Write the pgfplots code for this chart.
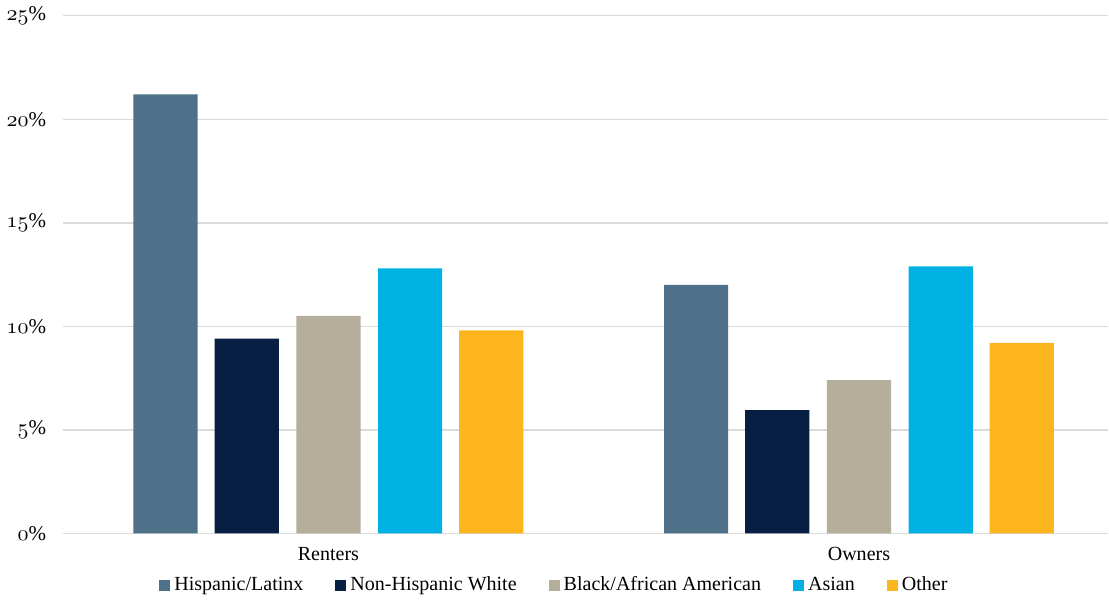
\documentclass[border=0pt]{standalone}
\usepackage{fontspec}
\setmainfont{Liberation Serif}
\usepackage{pgfplots}
\pgfplotsset{compat=1.18}
\definecolor{hisp}{HTML}{4E7189}
\definecolor{nhw}{HTML}{061F42}
\definecolor{blk}{HTML}{B5AE9A}
\definecolor{asn}{HTML}{00B2E3}
\definecolor{oth}{HTML}{FDB51E}
\newcommand{\os}[1]{$\mathnormal{#1}$}
\begin{document}
\begin{tikzpicture}
\begin{axis}[
  scale only axis, width=522pt, height=258.5pt,
  ybar, bar width=0.121,
  xmin=-0.5, xmax=1.47, ymin=0, ymax=25,
  xtick={0,1}, xticklabels={Renters,Owners},
  ytick={0,5,10,15,20,25},
  yticklabels={\os{0}\%,\os{5}\%,\os{10}\%,\os{15}\%,\os{20}\%,\os{25}\%},
  yticklabel style={xshift=-5pt, font=\fontsize{10.5}{12}\selectfont},
  xticklabel style={yshift=-3.5pt, font=\fontsize{10}{12}\selectfont},
  axis line style={draw=none},
  major tick length=0pt, tick style={draw=none},
  ymajorgrids, grid style={color=gray!28, line width=0.7pt},
  legend style={at={(axis description cs:0.471,-0.1006)}, anchor=center,
    draw=none, fill=none, font=\fontsize{10}{12}\selectfont,
    /tikz/every even column/.append style={column sep=14pt},
    /tikz/every odd column/.append style={column sep=0pt}},
  legend columns=5,
  legend image code/.code={\fill[#1] (0pt,-2.75pt) rectangle (5.5pt,2.75pt);},
]
\addplot[fill=hisp, draw=none, bar shift=-0.307] coordinates {(0,21.2) (1,12.0)};
\addlegendentry{Hispanic/Latinx}
\addplot[fill=nhw, draw=none, bar shift=-0.154] coordinates {(0,9.4) (1,5.95)};
\addlegendentry{Non-Hispanic White\hspace{18pt}}
\addplot[fill=blk, draw=none, bar shift=0] coordinates {(0,10.5) (1,7.4)};
\addlegendentry{Black/African American}
\addplot[fill=asn, draw=none, bar shift=0.154] coordinates {(0,12.8) (1,12.9)};
\addlegendentry{Asian}
\addplot[fill=oth, draw=none, bar shift=0.307] coordinates {(0,9.8) (1,9.2)};
\addlegendentry{Other}
\end{axis}
\end{tikzpicture}
\end{document}
